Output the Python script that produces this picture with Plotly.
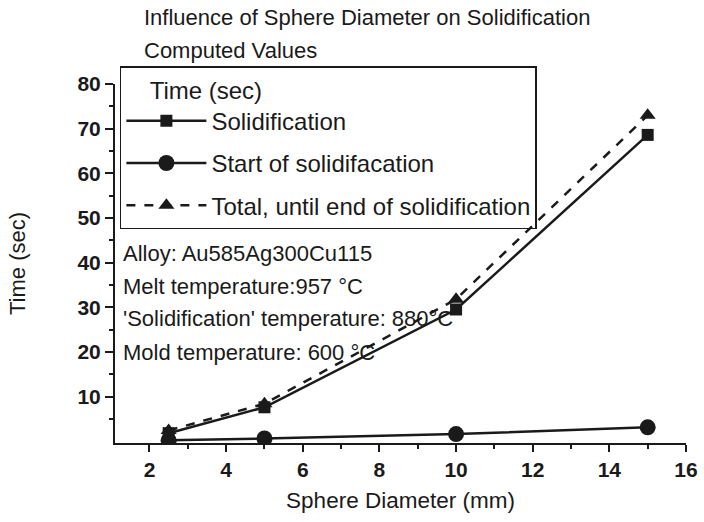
import plotly.graph_objects as go

diameter = [2.5, 5, 10, 15]
solidification = [1.8, 7.6, 29.5, 68.6]
start_solid = [0.2, 0.6, 1.6, 3.1]
total_solid = [2.4, 8.4, 31.8, 73.0]

series_names = ["Solidification", "Start of solidifacation", "Total, until end of solidification"]
x_ticks = [2, 4, 6, 8, 10, 12, 14, 16]
y_ticks = [10, 20, 30, 40, 50, 60, 70, 80]
notes = ["Alloy: Au585Ag300Cu115", "Melt temperature:957 °C",
         "'Solidification' temperature: 880°C", "Mold temperature: 600 °C"]

INK = "#1a1a1a"
FONT = "Liberation Sans, Arial, sans-serif"
L, R = 115, 6
PW = 704 - L - R
PT, PB = 84, 443
PH = PB - PT

fig = go.Figure()
fig.add_trace(go.Scatter(x=diameter, y=solidification, name=series_names[0], mode="lines+markers",
                         line=dict(color=INK, width=2.5), legendgroup="a",
                         marker=dict(symbol="square", size=12, color=INK)))
fig.add_trace(go.Scatter(x=diameter, y=start_solid, name=series_names[1], mode="lines+markers",
                         line=dict(color=INK, width=2.5), legendgroup="b",
                         marker=dict(symbol="circle", size=16, color=INK)))
fig.add_trace(go.Scatter(x=diameter, y=total_solid, name=series_names[2], mode="lines+markers",
                         line=dict(color=INK, width=2.5, dash="dash"), legendgroup="c",
                         marker=dict(symbol="triangle-up", size=14, color=INK)))

annotations = [
    dict(text="Influence of Sphere Diameter on Solidification", x=(143 - L) / PW, y=(PB - 18) / PH,
         xref="paper", yref="paper", xanchor="left", yanchor="middle", showarrow=False,
         font=dict(size=22, color=INK, family=FONT)),
    dict(text="Computed Values", x=(143 - L) / PW, y=(PB - 50) / PH, xref="paper", yref="paper",
         xanchor="left", yanchor="middle", showarrow=False, font=dict(size=22, color=INK, family=FONT)),
]
note_y = [254, 286, 318, 352]
for t, py in zip(notes, note_y):
    annotations.append(dict(text=t, x=(121 - L) / PW, y=(PB - py) / PH, xref="paper", yref="paper",
                            xanchor="left", yanchor="middle", showarrow=False,
                            font=dict(size=22, color=INK, family=FONT)))

fig.update_layout(
    width=704, height=522,
    margin=dict(l=L, r=R, t=PT, b=522 - PB),
    paper_bgcolor="white", plot_bgcolor="white",
    font=dict(family=FONT, color=INK),
    showlegend=True,
    legend=dict(x=(120 - L) / PW, y=(PB - 66) / PH, xanchor="left", yanchor="top",
                bordercolor=INK, borderwidth=1.5, bgcolor="rgba(255,255,255,0)",
                title=dict(text="    Time (sec)", font=dict(size=24)),
                font=dict(size=24, color=INK, family=FONT), tracegroupgap=8,
                itemwidth=80),
    annotations=annotations,
    xaxis=dict(range=[1.1, 16], tickvals=x_ticks, showgrid=False, zeroline=False,
               showline=True, linecolor=INK, linewidth=2, ticks="outside", ticklen=7, tickwidth=1.5,
               tickcolor=INK, tickfont=dict(size=21, family=FONT, color=INK, weight="bold"),
               ticklabeloverflow="allow",
               minor=dict(tickvals=[3, 5, 7, 9, 11, 13, 15], ticks="outside", ticklen=4, tickwidth=1.5, tickcolor=INK),
               title=dict(text="Sphere Diameter (mm)", font=dict(size=22.5), standoff=12)),
    yaxis=dict(range=[-0.4, 80], tickvals=y_ticks, showgrid=False, zeroline=False,
               showline=True, linecolor=INK, linewidth=2, ticks="outside", ticklen=8, tickwidth=1.5,
               tickcolor=INK, tickfont=dict(size=21, family=FONT, color=INK, weight="bold"),
               minor=dict(tickvals=[5, 15, 25, 35, 45, 55, 65, 75], ticks="outside", ticklen=4, tickwidth=1.5, tickcolor=INK),
               title=dict(text="Time (sec)", font=dict(size=22), standoff=46)),
)

fig.write_html("out.html")
